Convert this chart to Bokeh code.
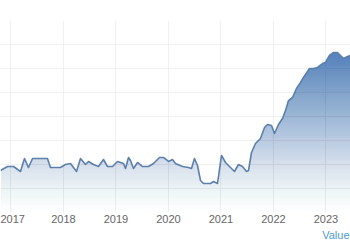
import numpy as np
from bokeh.plotting import figure
from bokeh.models import Range1d, FixedTicker, Title
from bokeh.embed import file_html
from bokeh.resources import INLINE

# ---- data (decimal year, value) ----
dates = [2016.800, 2016.933, 2017.048, 2017.181, 2017.257, 2017.333, 2017.410, 2017.695,
         2017.752, 2017.943, 2018.038, 2018.133, 2018.248, 2018.324, 2018.419, 2018.476,
         2018.571, 2018.667, 2018.762, 2018.838, 2018.933, 2019.029, 2019.143, 2019.181,
         2019.238, 2019.276, 2019.333, 2019.410, 2019.505, 2019.619, 2019.714, 2019.829,
         2019.905, 2020.000, 2020.076, 2020.133, 2020.267, 2020.381, 2020.438, 2020.495,
         2020.552, 2020.610, 2020.667, 2020.800, 2020.857, 2020.933, 2021.010, 2021.086,
         2021.181, 2021.257, 2021.333, 2021.410, 2021.486, 2021.524, 2021.581, 2021.657,
         2021.752, 2021.829, 2021.886, 2021.962, 2022.019, 2022.095, 2022.171, 2022.229,
         2022.286, 2022.362, 2022.438, 2022.514, 2022.571, 2022.686, 2022.762, 2022.838,
         2022.933, 2022.990, 2023.067, 2023.143, 2023.219, 2023.295, 2023.333, 2023.410,
         2023.467, 2023.500]
values = [87.5, 95.8, 95.8, 85.4, 112.5, 93.8, 112.5, 112.5,
          93.8, 93.8, 100.0, 102.1, 85.4, 112.5, 100.0, 106.3,
          100.0, 95.8, 110.4, 95.8, 95.8, 106.3, 102.1, 91.7,
          114.6, 108.3, 91.7, 104.2, 95.8, 95.8, 102.1, 114.6,
          114.6, 106.3, 110.4, 102.1, 95.8, 93.8, 91.7, 112.5,
          97.9, 66.7, 60.4, 60.4, 64.6, 60.4, 118.8, 104.2,
          93.8, 85.4, 100.0, 95.8, 85.4, 87.5, 125.0, 143.8,
          154.2, 177.1, 183.3, 181.3, 164.6, 183.3, 195.8, 212.5,
          233.3, 239.6, 258.3, 270.8, 281.3, 300.0, 300.0, 302.1,
          310.4, 312.5, 327.1, 333.3, 333.3, 325.0, 320.8, 325.0,
          327.1, 327.5]
tick_years = [2017, 2018, 2019, 2020, 2021, 2022, 2023]
tick_labels = ["2017", "2018", "2019", "2020", "2021", "2022", "2023"]
legend_label = "Value"

x = np.array(dates)
y = np.array(values)

p = figure(width=350, height=250, output_backend="svg", toolbar_location=None,
           x_range=Range1d(2016.8, 2023.4667), y_range=Range1d(0, 400),
           y_axis_location=None, min_border_left=0, min_border_right=0,
           min_border_top=20, min_border_bottom=38,
           background_fill_color="white", border_fill_color="white")
p.outline_line_color = None

# grid
p.xgrid.ticker = FixedTicker(ticks=tick_years)
p.ygrid.ticker = FixedTicker(ticks=list(range(0, 401, 50)))
p.xgrid.grid_line_color = "#f0f0f0"
p.ygrid.grid_line_color = "#f0f0f0"

# x axis
ax = p.xaxis[0]
ax.ticker = FixedTicker(ticks=tick_years)
ax.major_label_overrides = {t: l for t, l in zip(tick_years, tick_labels)}
ax.axis_line_color = None
ax.major_tick_line_color = None
ax.minor_tick_line_color = None
ax.major_tick_out = 0
ax.major_tick_in = 0
ax.minor_tick_out = 0
ax.major_label_text_font = "Liberation Sans"
ax.major_label_text_font_size = "11px"
ax.major_label_text_color = "#666666"
ax.major_label_standoff = 2

# gradient area: stacked translucent layers
def opac(h):
    return min(0.9, 0.84 * (max(h, 0) / 340.0) ** 1.25)

step = 5
levels = np.arange(0, 345, step)
for L in levels:
    o0, o1 = opac(L), opac(L + step)
    a = 1 - (1 - o1) / (1 - o0)
    if a <= 0:
        continue
    p.varea(x=x, y1=np.full_like(y, L, dtype=float), y2=np.maximum(y, L),
            fill_color="#3f74bb", fill_alpha=a)

p.line(x, y, line_color="#5b80ad", line_width=1.6, line_join="round")

t = Title(text=legend_label, align="right", text_font="Liberation Sans",
          text_font_size="11px", text_font_style="normal", text_color="#4a9bd6",
          offset=1, standoff=2)
p.add_layout(t, "below")

open("out.html", "w").write(file_html(p, INLINE))
